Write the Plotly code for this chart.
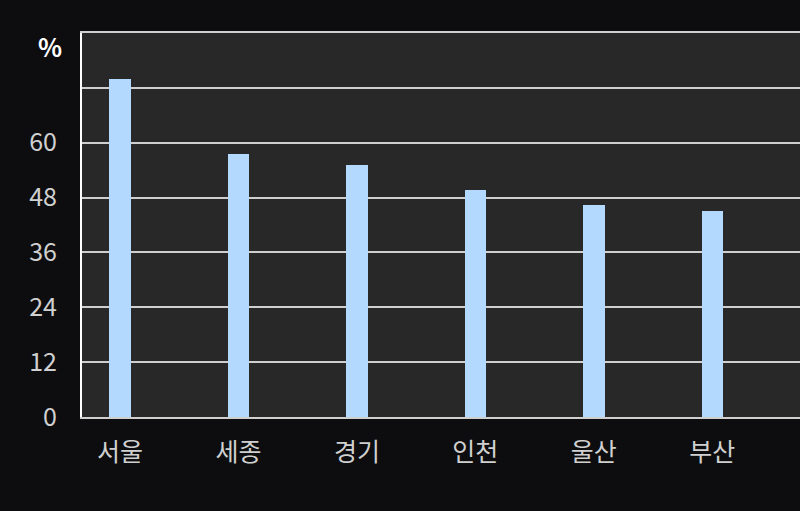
import plotly.graph_objects as go

regions = ["서울", "세종", "경기", "인천", "울산", "부산"]
values = [74.0, 57.6, 55.2, 49.7, 46.4, 45.1]
y_tick_vals = [0, 12, 24, 36, 48, 60, 72, 84]
y_tick_text = ["0", "12", "24", "36", "48", "60", "", ""]
unit_label = "%"

font_family = "Noto Sans CJK KR, Noto Sans, sans-serif"
bg = "#0d0d0f"

fig = go.Figure(
    go.Bar(
        x=regions,
        y=values,
        width=0.18,
        marker=dict(color="#b3d9ff", line=dict(width=0)),
        hoverinfo="skip",
    )
)

fig.update_layout(
    width=800,
    height=511,
    paper_bgcolor=bg,
    plot_bgcolor="#282828",
    margin=dict(l=82, r=0, t=33, b=94),
    showlegend=False,
    font=dict(family=font_family, color="#d0d0d0", size=25),
    bargap=0,
)

fig.update_xaxes(
    type="category",
    range=[-0.32, 5.74],
    showgrid=False,
    showline=True,
    linecolor="#cfcfcf",
    linewidth=2,
    mirror=True,
    zeroline=False,
    ticks="",
    ticklabelstandoff=12,
    tickfont=dict(size=25, color="#d0d0d0"),
)

fig.update_yaxes(
    range=[0, 84],
    tickvals=y_tick_vals,
    ticktext=y_tick_text,
    showgrid=True,
    gridcolor="#cfcfcf",
    gridwidth=2,
    zeroline=False,
    showline=True,
    linecolor="#ffffff",
    linewidth=2,
    ticks="",
    ticklabelstandoff=18,
    tickfont=dict(size=25, color="#d0d0d0"),
)

fig.add_annotation(
    x=0, xref="paper", xanchor="right", xshift=-18,
    y=84, yref="y", yanchor="middle", yshift=-13,
    text="<b>" + unit_label + "</b>",
    showarrow=False,
    font=dict(size=25, color="#ffffff", family=font_family),
)

fig.write_html(
    "out.html",
    config={"displayModeBar": False},
    post_script="document.body.style.margin='0';document.body.style.background='" + bg + "';",
)
